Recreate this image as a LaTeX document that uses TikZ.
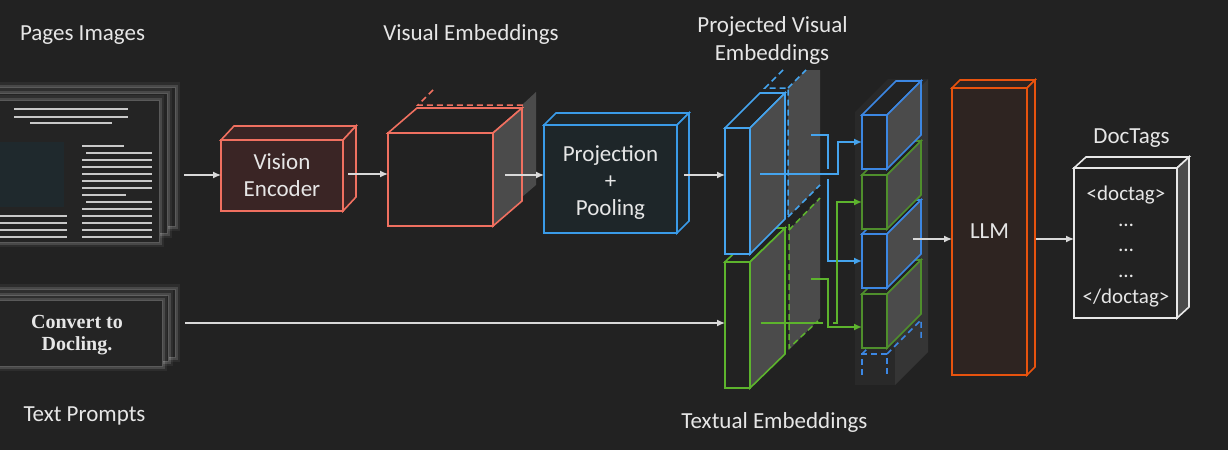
\documentclass[tikz,border=0pt]{standalone}
\usepackage{fontspec}
\setmainfont{Carlito}
\newfontfamily\promptfont{Liberation Serif}
\usetikzlibrary{arrows.meta,calc}
\definecolor{bgc}{HTML}{222222}
\definecolor{txt}{HTML}{E6E6E6}
\definecolor{arrc}{HTML}{D9D9D9}
\definecolor{salmon}{HTML}{F07060}
\definecolor{vencfill}{HTML}{3A2525}
\definecolor{projblue}{HTML}{3A9BE8}
\definecolor{projfill}{HTML}{1E2629}
\definecolor{slabblue}{HTML}{45A4EE}
\definecolor{slabgreen}{HTML}{5DB42D}
\definecolor{tokblue}{HTML}{3C87E3}
\definecolor{tokgreen}{HTML}{4F8F2C}
\definecolor{sidegray}{HTML}{4B4B4B}
\definecolor{llmorange}{HTML}{E8530E}
\definecolor{llmfill}{HTML}{2E2421}
\definecolor{docedge}{HTML}{E8E8E8}
\definecolor{colfront}{HTML}{292929}
\definecolor{colside}{HTML}{353535}
\definecolor{pageedge}{HTML}{5A5A5A}
\definecolor{pagefill}{HTML}{242424}
\definecolor{pageline}{HTML}{C8C8C8}
\definecolor{imgblock}{HTML}{1F292D}
\tikzset{
  face/.style={inner sep=0pt, outer sep=0pt, line width=1.6pt, line join=miter},
  lbl/.style={text=txt, font=\fontsize{23}{27}\selectfont, inner sep=0pt, anchor=base},
  boxtext/.style={text=txt, font=\fontsize{23}{27}\selectfont, align=center},
  arr/.style={draw=arrc, line width=1.3pt, -{Latex[length=8pt,width=7pt]}},
  barr/.style={draw=slabblue, line width=1.5pt, -{Latex[length=8pt,width=7pt]}},
  garr/.style={draw=slabgreen, line width=1.5pt, -{Latex[length=8pt,width=7pt]}},
  page/.style={fill=pagefill, draw=pageedge, line width=1pt,
    preaction={draw=white, draw opacity=0.05, line width=10pt},
    preaction={draw=white, draw opacity=0.13, line width=5pt}},
  pline/.style={draw=pageline, line width=1.1pt},
  bdash/.style={draw=slabblue, line width=1.5pt, dash pattern=on 6pt off 4pt},
  gdash/.style={draw=slabgreen, line width=1.5pt, dash pattern=on 6pt off 4pt},
  sdash/.style={draw=salmon, line width=1.5pt, dash pattern=on 6pt off 4pt},
  tdash/.style={draw=tokblue, line width=1.5pt, dash pattern=on 6pt off 4pt},
}
% faces of a box: node, dx, dy(up), stroke, top fill, side fill
\newcommand\cubefaces[6]{%
  \filldraw[face, draw=#4, fill=#5] (#1.north west) -- ++(#2,-#3) -- ($(#1.north east)+(#2,-#3)$) -- (#1.north east) -- cycle;
  \filldraw[face, draw=#4, fill=#6] (#1.north east) -- ++(#2,-#3) -- ($(#1.south east)+(#2,-#3)$) -- (#1.south east) -- cycle;
}
\begin{document}
\begin{tikzpicture}[x=1pt,y=-1pt]
\useasboundingbox (0,0) rectangle (1228,450);
\fill[bgc] (0,0) rectangle (1228,450);

% ---------- labels ----------
\node[lbl] (lpages) at (82.5,40) {Pages Images};
\node[lbl] (lvis) at (471,40) {Visual Embeddings};
\node[lbl] (lproj1) at (772.5,32) {Projected Visual};
\node[lbl] (lproj2) at (772,60) {Embeddings};
\node[lbl] (ltext) at (84.5,421) {Text Prompts};
\node[lbl] (ltxtemb) at (774.5,428) {Textual Embeddings};
\node[lbl] (ldoc) at (1131.5,143) {DocTags};

% ---------- page images ----------
\path[page] (-10,87) rectangle (175,226);
\path[page] (-10,93) rectangle (167,233);
\path[page] (-10,100) rectangle (159,242);
\node[inner sep=0pt, outer sep=0pt, minimum width=159pt, minimum height=142pt] (pages) at (79.5,171) {};
\draw[pline] (14,109) -- (128,109);
\draw[pline] (14,117) -- (128,117);
\draw[pline] (30,123) -- (112,123);
\fill[imgblock] (0,142) rectangle (64,207);
\foreach \k/\a/\b in {0/82/124,1/86/152,2/82/152,3/82/152,4/82/152,5/82/152,6/82/152,7/82/126,8/86/152,9/82/152,10/82/152,11/82/152,12/82/152,13/82/152}
  \draw[pline] (\a,146+7*\k) -- (\b,146+7*\k);
\foreach \k in {0,1,2,3}
  \draw[pline] (0,216+7*\k) -- (67,216+7*\k);

% ---------- text prompts ----------
\path[page] (-10,289) rectangle (175,357);
\path[page] (-10,295) rectangle (168,361);
\path[page] (-10,300) rectangle (162,366);
\node[text=txt, font=\promptfont\bfseries\fontsize{20}{22}\selectfont, align=center] (prompt) at (77,335) {Convert to\\Docling.};

% ---------- vision encoder ----------
\node[face, draw=salmon, fill=vencfill, minimum width=122pt, minimum height=71pt, boxtext] (venc) at (282,175.5) {Vision\\Encoder};
\cubefaces{venc}{13}{14}{salmon}{vencfill}{vencfill}

% ---------- visual embeddings ----------
\fill[sidegray] (522,105) -- (536,92) -- (536,185) -- (522,197) -- cycle;
\draw[sdash] (433,90) -- (418,105) -- (522,105) -- (522,197);
\node[face, draw=salmon, fill=bgc, minimum width=105pt, minimum height=93pt] (vemb) at (440.5,179.5) {};
\cubefaces{vemb}{29}{25}{salmon}{bgc}{sidegray}

% ---------- projection + pooling ----------
\node[face, draw=projblue, fill=projfill, minimum width=133pt, minimum height=108pt] (proj) at (610.5,179) {};
\cubefaces{proj}{12}{12}{projblue}{projfill}{projfill}
\node[boxtext, inner sep=0pt] (projtxt) at (610.5,183) {Projection\\+\\Pooling};

% ---------- projected / textual embeddings ----------
\fill[sidegray] (788,88) -- (806,70) -- (820,70) -- (820,185) -- (788,217) -- cycle;
\fill[sidegray] (789,230) -- (820,198) -- (820,318) -- (789,350) -- cycle;
\draw[bdash] (783,70) -- (765,88) -- (788,88) -- (788,215);
\draw[bdash] (788,88) -- (806,70);
\draw[bdash] (788,217) -- (820,185);
\draw[gdash] (789,230) -- (820,198);
\draw[gdash] (789,224) -- (789,348) -- (818,321);
\node[face, draw=slabgreen, fill=bgc, minimum width=25pt, minimum height=126pt] (gslab) at (737.5,325) {};
\cubefaces{gslab}{35}{34}{slabgreen}{bgc}{sidegray}
\node[face, draw=slabblue, fill=bgc, minimum width=25pt, minimum height=126pt] (bslab) at (737.5,191) {};
\cubefaces{bslab}{35}{35}{slabblue}{bgc}{sidegray}

% ---------- token column ----------
\node[inner sep=0pt, outer sep=0pt, fill=colfront, minimum width=40pt, minimum height=273pt] (col) at (875,248.5) {};
\fill[colfront] (col.north west) -- ++(33,-33) -- ($(col.north east)+(33,-33)$) -- (col.north east) -- cycle;
\fill[colside] (col.north east) -- ++(33,-33) -- ($(col.south east)+(33,-33)$) -- (col.south east) -- cycle;
% dashed last token
\draw[tdash] (862,375) -- (862,354) -- (887,354) -- (887,375);
\draw[tdash] (862,354) -- (868,348);
\draw[tdash] (887,354) -- (921,320) -- (921,338);
\node[face, draw=tokgreen, fill=bgc, minimum width=25pt, minimum height=54pt] (tok4) at (874.5,321) {};
\cubefaces{tok4}{34}{34}{tokgreen}{bgc}{sidegray}
\node[face, draw=tokblue, fill=bgc, minimum width=25pt, minimum height=54pt] (tok3) at (874.5,261) {};
\cubefaces{tok3}{34}{34}{tokblue}{bgc}{sidegray}
\node[face, draw=tokgreen, fill=bgc, minimum width=25pt, minimum height=54pt] (tok2) at (874.5,202) {};
\cubefaces{tok2}{34}{34}{tokgreen}{bgc}{sidegray}
\node[face, draw=tokblue, fill=bgc, minimum width=25pt, minimum height=54pt] (tok1) at (874.5,142) {};
\cubefaces{tok1}{34}{34}{tokblue}{bgc}{sidegray}

% ---------- routing arrows ----------
\coordinate (bs1) at (760,174);
\coordinate (bs2) at (811,135);
\coordinate (gs1) at (761,323);
\coordinate (gs2) at (811,279);
\draw[barr] (bs2) -- (828,135) |- (tok3.west);
\draw[bgc, line width=4pt] (828,169) -- (828,179);
\draw[barr] (bs1) -- (838,174) |- (tok1.west);
\draw[garr] (gs1) -- (837,323) |- (tok2.west);
\draw[bgc, line width=4pt] (823,323) -- (833,323);
\draw[garr] (gs2) -- (828,279) |- ($(tok4.west)+(0,6)$);

% ---------- LLM ----------
\node[face, draw=llmorange, fill=llmfill, minimum width=75pt, minimum height=287pt, boxtext] (llm) at (989.5,231.5) {LLM};
\cubefaces{llm}{8}{8}{llmorange}{llmfill}{llmfill}

% ---------- DocTags ----------
\node[face, draw=docedge, fill=bgc, minimum width=103pt, minimum height=150pt] (doc) at (1125.5,243) {};
\cubefaces{doc}{12}{11}{docedge}{bgc}{sidegray}
\node[inner sep=0pt, text=txt, font=\fontsize{21}{25.6}\selectfont, align=center] (doctxt) at (1126,246.5) {<doctag>\\…\\…\\…\\</doctag>};

% ---------- grey connectors ----------
\coordinate (a1s) at (184,175);
\draw[arr] (a1s) -- (venc.west |- a1s);
\coordinate (a2s) at (348,174);
\draw[arr] (a2s) -- (vemb.west |- a2s);
\coordinate (a3s) at (505,175);
\draw[arr] (a3s) -- (proj.west |- a3s);
\coordinate (a4s) at (684,175);
\draw[arr] (a4s) -- (bslab.west |- a4s);
\coordinate (tp) at (185,323);
\draw[arr] (tp) -- (gslab.west |- tp);
\coordinate (a5s) at (913,239);
\draw[arr] (a5s) -- (llm.west |- a5s);
\coordinate (a6s) at (1036,239);
\draw[arr] (a6s) -- (doc.west |- a6s);
\end{tikzpicture}
\end{document}
